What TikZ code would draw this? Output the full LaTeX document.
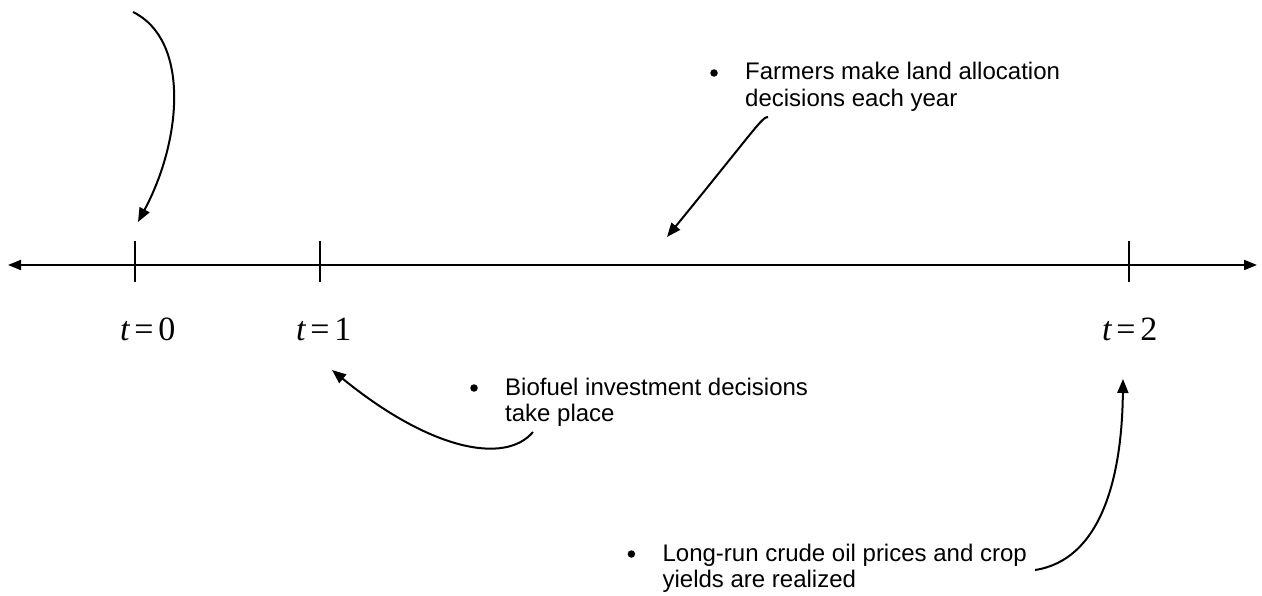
\documentclass[tikz,border=0pt]{standalone}
\usepackage{fontspec}
\setmainfont{Liberation Sans}
\newfontfamily\timesf{Liberation Serif}
\usetikzlibrary{arrows.meta}
\begin{document}
\begin{tikzpicture}[x=1bp,y=-1bp,
  axisline/.style={line width=2bp,{Triangle[length=13bp,width=10bp]}-{Triangle[length=13bp,width=10bp]}},
  tickline/.style={line width=2bp},
  callout/.style={line width=2bp,-{Triangle[length=14bp,width=11bp]}},
  txt/.style={inner sep=0pt,anchor=base west,font=\fontsize{24bp}{26.5bp}\selectfont},
  tlab/.style={inner sep=0pt,anchor=base west,font=\timesf\fontsize{34bp}{40bp}\selectfont},
  bul/.style={circle,fill=black,inner sep=0pt,minimum size=7.5bp}
]
\useasboundingbox (0,0) rectangle (1262,596);
% axis
\coordinate (axL) at (8,265);
\coordinate (axR) at (1257,265);
\draw[axisline] (axL) -- (axR);
% ticks
\coordinate (k0a) at (135,241); \coordinate (k0b) at (135,282);
\coordinate (k1a) at (320,241); \coordinate (k1b) at (320,282);
\coordinate (k2a) at (1129,241); \coordinate (k2b) at (1129,282);
\draw[tickline] (k0a) -- (k0b);
\draw[tickline] (k1a) -- (k1b);
\draw[tickline] (k2a) -- (k2b);
% time labels
\node[tlab] (t0) at (120,341) {\textit{t}\hspace{0.12em}=\hspace{0.14em}0};
\node[tlab] (t1) at (296,341) {\textit{t}\hspace{0.12em}=\hspace{0.14em}1};
\node[tlab] (t2) at (1102,341) {\textit{t}\hspace{0.12em}=\hspace{0.14em}2};
% text blocks
\node[txt] (F1) at (745,80) {Farmers make land allocation};
\node[txt] (F2) at ([yshift=-26.5bp]F1.base west) {decisions each year};
\node[bul] (Fb) at ([xshift=-31bp,yshift=7bp]F1.base west) {};
\node[txt] (B1) at (505,395) {Biofuel investment decisions};
\node[txt] (B2) at ([yshift=-26.5bp]B1.base west) {take place};
\node[bul] (Bb) at ([xshift=-31bp,yshift=7bp]B1.base west) {};
\node[txt,anchor=base east] (L1) at (1027,561) {Long-run crude oil prices and crop};
\node[txt] (L2) at ([yshift=-26bp]L1.base west) {yields are realized};
\node[bul] (Lb) at ([xshift=-31bp,yshift=7bp]L1.base west) {};
% callout arrows
\coordinate (c0s) at (133,12);  \coordinate (c0e) at (138,222);
\draw[callout] (c0s) .. controls (190,40) and (182,140) .. (c0e);
\coordinate (cFs) at (768,117); \coordinate (cFe) at (667,237);
\draw[callout] (cFs) .. controls (762,117) and (756,128) .. (cFe);
\coordinate (cBs) at (533,432); \coordinate (cBe) at (332,370);
\draw[callout] (cBs) .. controls (505,465) and (430,450) .. (cBe);
\coordinate (cLs) at (1035,570); \coordinate (cLe) at (1123,379);
\draw[callout] (cLs) .. controls (1100,560) and (1122,480) .. (cLe);
\end{tikzpicture}
\end{document}
